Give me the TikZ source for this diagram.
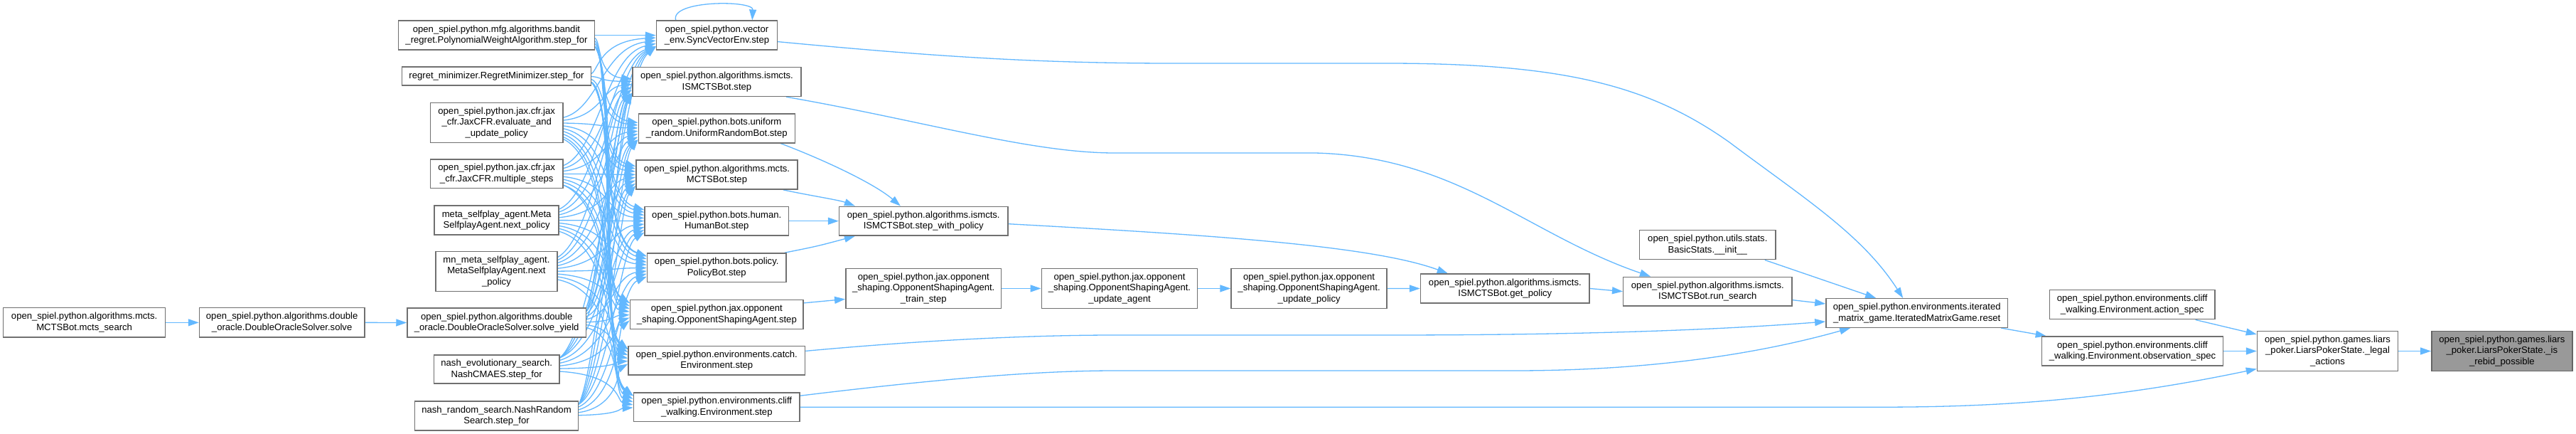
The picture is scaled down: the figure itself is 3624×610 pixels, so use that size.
\documentclass[tikz,border=0pt]{standalone}
\usepackage{fontspec}
\setmainfont{Liberation Sans}
\usetikzlibrary{arrows.meta,calc}
\definecolor{edgeblue}{HTML}{63B8FF}
\definecolor{boxborder}{HTML}{707070}
\definecolor{hlfill}{HTML}{999999}
\pgfdeclarelayer{bgfill}
\pgfdeclarelayer{edges}
\pgfsetlayers{bgfill,edges,main}
\begin{document}
\begin{tikzpicture}[x=1pt,y=-1pt,
  box/.style={draw=boxborder, line width=1.5pt, fill=white, inner sep=0pt, align=center,
    font=\fontsize{13.1}{15.6}\selectfont, text=black},
  edge/.style={draw=edgeblue, line width=1.3pt, -{Triangle[length=15pt,width=10pt]}}]
\begin{pgfonlayer}{bgfill}
\fill[white] (0,0) rectangle (3624,610);
\end{pgfonlayer}
\useasboundingbox (0,0) rectangle (3624,610);

% column A, B
\node[box, minimum width=228.1, minimum height=41.3] (a) at (118.65,453.35) {open\_spiel.python.algorithms.mcts.\\MCTSBot.mcts\_search};
\node[box, minimum width=232.3, minimum height=41.3] (b) at (396.65,453.35) {open\_spiel.python.algorithms.double\\\_oracle.DoubleOracleSolver.solve};

% column C
\node[box, minimum width=275.6, minimum height=40.8] (c1) at (698.5,49.6) {open\_spiel.python.mfg.algorithms.bandit\\\_regret.PolynomialWeightAlgorithm.step\_for};
\node[box, minimum width=265.6, minimum height=25.6] (c2) at (698.5,107) {regret\_minimizer.RegretMinimizer.step\_for};
\node[box, minimum width=186.4, minimum height=55.7] (c3) at (698.7,172.55) {open\_spiel.python.jax.cfr.jax\\\_cfr.JaxCFR.evaluate\_and\\\_update\_policy};
\node[box, minimum width=186.4, minimum height=40.5] (c4) at (698.7,244.35) {open\_spiel.python.jax.cfr.jax\\\_cfr.JaxCFR.multiple\_steps};
\node[box, minimum width=174.9, minimum height=40.9] (c5) at (698.65,309.55) {meta\_selfplay\_agent.Meta\\SelfplayAgent.next\_policy};
\node[box, minimum width=170.7, minimum height=55.6] (c6) at (698.45,381.5) {mn\_meta\_selfplay\_agent.\\MetaSelfplayAgent.next\\\_policy};
\node[box, minimum width=251.4, minimum height=40.8] (c7) at (698.7,453.5) {open\_spiel.python.algorithms.double\\\_oracle.DoubleOracleSolver.solve\_yield};
\node[box, minimum width=176.4, minimum height=40.1] (c8) at (698.7,518.85) {nash\_evolutionary\_search.\\NashCMAES.step\_for};
\node[box, minimum width=229.6, minimum height=41.3] (c9) at (698.5,584.45) {nash\_random\_search.NashRandom\\Search.step\_for};

% column D
\node[box, minimum width=169.9, minimum height=40.8] (d1) at (1008.45,49.6) {open\_spiel.python.vector\\\_env.SyncVectorEnv.step};
\node[box, minimum width=237.3, minimum height=40.8] (d2) at (1008.45,115) {open\_spiel.python.algorithms.ismcts.\\ISMCTSBot.step};
\node[box, minimum width=220, minimum height=40.8] (d3) at (1008.3,180.4) {open\_spiel.python.bots.uniform\\\_random.UniformRandomBot.step};
\node[box, minimum width=227.3, minimum height=41.2] (d4) at (1008.45,245.5) {open\_spiel.python.algorithms.mcts.\\MCTSBot.step};
\node[box, minimum width=202.5, minimum height=40.8] (d5) at (1008.25,310.7) {open\_spiel.python.bots.human.\\HumanBot.step};
\node[box, minimum width=195.5, minimum height=40.5] (d6) at (1008.25,376.25) {open\_spiel.python.bots.policy.\\PolicyBot.step};
\node[box, minimum width=243.8, minimum height=40.9] (d7) at (1008.3,441.85) {open\_spiel.python.jax.opponent\\\_shaping.OpponentShapingAgent.step};
\node[box, minimum width=248.4, minimum height=40.8] (d8) at (1008.3,506.8) {open\_spiel.python.environments.catch.\\Environment.step};
\node[box, minimum width=233.8, minimum height=40.8] (d9) at (1008.3,572.2) {open\_spiel.python.environments.cliff\\\_walking.Environment.step};

% middle
\node[box, minimum width=237.3, minimum height=40.8] (e1) at (1299.25,310.7) {open\_spiel.python.algorithms.ismcts.\\ISMCTSBot.step\_with\_policy};
\node[box, minimum width=218.9, minimum height=56.1] (e2) at (1299.25,405.45) {open\_spiel.python.jax.opponent\\\_shaping.OpponentShapingAgent.\\\_train\_step};
\node[box, minimum width=219.4, minimum height=56.1] (f1) at (1575,405.45) {open\_spiel.python.jax.opponent\\\_shaping.OpponentShapingAgent.\\\_update\_agent};
\node[box, minimum width=219, minimum height=56.1] (g1) at (1841.6,405.45) {open\_spiel.python.jax.opponent\\\_shaping.OpponentShapingAgent.\\\_update\_policy};
\node[box, minimum width=237.7, minimum height=41] (h1) at (2117.35,405.5) {open\_spiel.python.algorithms.ismcts.\\ISMCTSBot.get\_policy};
\node[box, minimum width=237.2, minimum height=40.7] (i1) at (2402.3,409.65) {open\_spiel.python.algorithms.ismcts.\\ISMCTSBot.run\_search};
\node[box, minimum width=191.4, minimum height=41] (i2) at (2402.3,344.2) {open\_spiel.python.utils.stats.\\BasicStats.\_\_init\_\_};
\node[box, minimum width=255.6, minimum height=40.6] (j1) at (2696.7,440) {open\_spiel.python.environments.iterated\\\_matrix\_game.IteratedMatrixGame.reset};
\node[box, minimum width=232.3, minimum height=41] (k1) at (2999.65,428.2) {open\_spiel.python.environments.cliff\\\_walking.Environment.action\_spec};
\node[box, minimum width=255.2, minimum height=41] (k2) at (3000,493.5) {open\_spiel.python.environments.cliff\\\_walking.Environment.observation\_spec};
\node[box, minimum width=198.1, minimum height=55.6] (l1) at (3274.55,493.5) {open\_spiel.python.games.liars\\\_poker.LiarsPokerState.\_legal\\\_actions};
\node[box, fill=hlfill, draw=boxborder!90!black, minimum width=198.1, minimum height=55.6] (m1) at (3519.85,493.5) {open\_spiel.python.games.liars\\\_poker.LiarsPokerState.\_is\\\_rebid\_possible};

\begin{pgfonlayer}{edges}
% simple edges
\draw[edge] (a.east) -- (b.west);
\draw[edge] (b.east) -- (c7.west);

% dense mesh C -> D
\def\cYarr{{49.6,107,172.55,244.35,309.55,381.5,453.5,518.85,584.45}}
\def\dYarr{{49.6,115,180.4,245.5,310.7,376.25,441.85,506.8,572.2}}
\def\cHarr{{16,8.5,23,16,16,23,16,16,16}}
\foreach \i in {1,...,9}{
  \foreach \j in {1,...,9}{
    \pgfmathsetmacro\dy{\dYarr[\j-1]-\cYarr[\i-1]}
    \pgfmathsetmacro\lim{\cHarr[\i-1]}
    \pgfmathsetmacro\s{max(-\lim,min(\lim,\dy*0.06))}
    \pgfmathsetmacro\e{max(-16,min(16,-\dy*0.06))}
    \pgfmathsetmacro\ys{\cYarr[\i-1]+\s+0.1*\dy}
    \pgfmathsetmacro\ye{\dYarr[\j-1]+\e-0.08*\dy}
    \pgfmathsetmacro\xa{838+4*\j}
    \pgfmathsetmacro\xb{836+4*\i}
    \draw[edge] ($(c\i.east)+(0,\s)$) .. controls (\xa,\ys) and (\xb,\ye) .. ($(d\j.west)+(0,\e)$);
  }
}

% self loop
\draw[edge] ($(d1.north west)+(28,0)$) .. controls (942,0) and (1060,0) .. ($(d1.north west)+(135.5,0)$);

% D -> E1
\draw[edge] ($(d3.south east)+(-21,0)$) .. controls (1160,225) and (1230,258) .. ($(e1.north west)+(87,0)$);
\draw[edge] ($(d4.south east)+(-21,0)$) .. controls (1140,275) and (1180,281) .. ($(e1.north west)+(23,0)$);
\draw[edge] (d5.east) -- (e1.west);
\draw[edge] ($(d6.north east)+(-3,0)$) .. controls (1150,346) .. ($(e1.south west)+(23,0)$);

% D7 -> E2 chain
\draw[edge] ($(d7.east)+(0,-16)$) -- ($(e2.west)+(0,15)$);
\draw[edge] (e2.east) -- (f1.west);
\draw[edge] (f1.east) -- (g1.west);
\draw[edge] (g1.east) -- (h1.west);
\draw[edge] (h1.east) -- (i1.west);
\draw[edge] ($(i1.east)+(0,12)$) -- ($(j1.west)+(0,-13)$);
\draw[edge] ($(i2.south east)+(-16,0)$) -- ($(j1.north west)+(71,0)$);

% E1 -> H1
\draw[edge] ($(e1.east)+(0,4)$) .. controls (1700,330) and (1930,345) .. ($(h1.north west)+(39,0)$);

% D1 -> J1
\draw[edge] ($(d1.east)+(0,9)$) .. controls (1300,78) and (1450,89) .. (1650,89) -- (1950,89)
  .. controls (2200,89) and (2320,120) .. (2433,200) .. controls (2540,280) and (2620,330) .. ($(j1.north west)+(109,0)$);

% D2 -> I1
\draw[edge] ($(d2.south east)+(-22,0)$) .. controls (1300,170) and (1450,215) .. (1568,215) -- (1850,215)
  .. controls (2050,220) and (2150,330) .. ($(i1.north west)+(39,0)$);

% D8 -> J1
\draw[edge] ($(d8.east)+(0,-13.4)$) .. controls (1300,478) and (1450,471) .. (1568,471) -- (1950,471)
  .. controls (2200,471) and (2400,465) .. ($(j1.west)+(0,12)$);

% D9 -> J1
\draw[edge] ($(d9.east)+(0,-16)$) .. controls (1300,535) and (1450,521) .. (1568,521) -- (2130,521)
  .. controls (2350,521) and (2500,490) .. ($(j1.south west)+(35,0)$);

% D9 -> L1
\draw[edge] (d9.east) -- (2650,572.2) .. controls (2850,572.2) and (3000,555) .. ($(l1.west)+(0,25)$);

% right part
\draw[edge] ($(j1.south east)+(-10,0)$) -- ($(k2.north west)+(7,0)$);
\draw[edge] ($(k1.south east)+(-28,0)$) -- ($(l1.north west)+(0,5)$);
\draw[edge] (k2.east) -- (l1.west);
\draw[edge] (l1.east) -- (m1.west);
\end{pgfonlayer}
\end{tikzpicture}
\end{document}
